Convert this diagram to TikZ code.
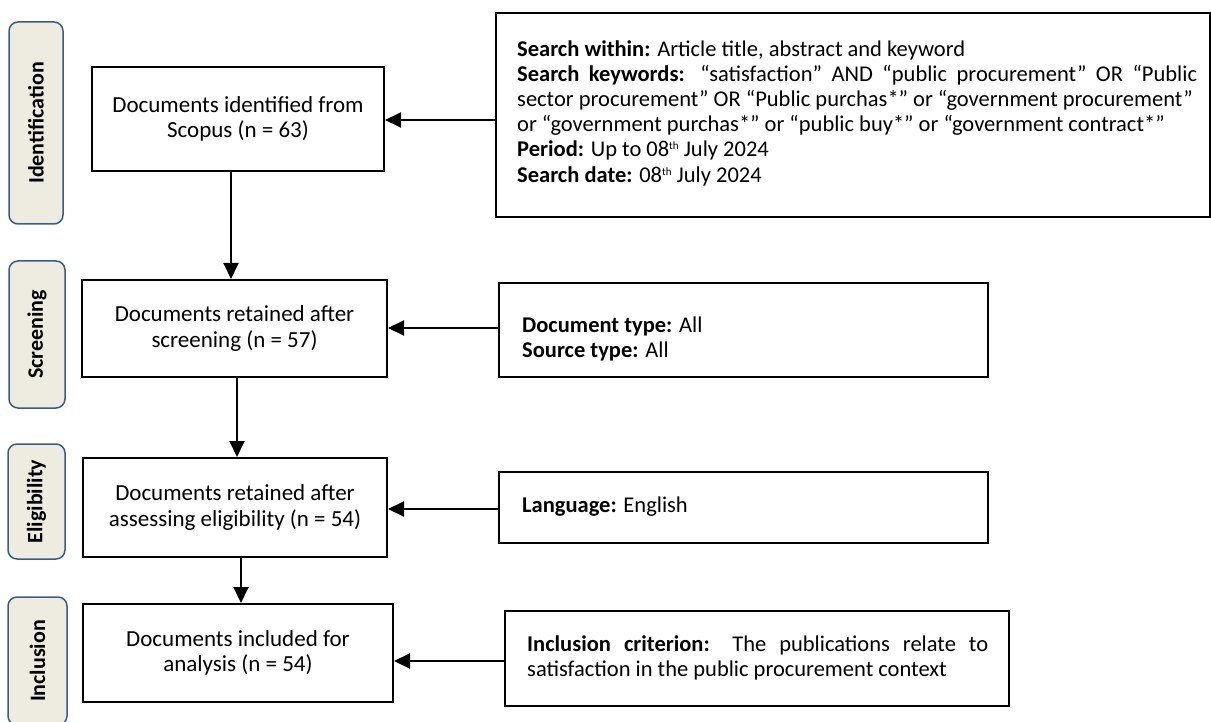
\documentclass[tikz,border=0pt]{standalone}
\usepackage{fontspec}
\setmainfont{Carlito}
\usetikzlibrary{arrows.meta}
\definecolor{phasefill}{HTML}{EEECE1}
\definecolor{phaseline}{HTML}{385D8A}
\newcommand{\thsup}{\raisebox{0.65ex}{\fontsize{11}{11}\selectfont th}}
\begin{document}
\begin{tikzpicture}[x=1pt,y=-1pt,
 mainbox/.style={draw, line width=2pt, align=center, font=\fontsize{23}{25.5}\selectfont, inner sep=0pt},
 sidebox/.style={draw, line width=2pt, inner sep=0pt},
 sidetext/.style={anchor=west, align=left, font=\fontsize{22.5}{25.2}\selectfont, inner sep=0pt},
 phase/.style={draw=phaseline, fill=phasefill, line width=1.5pt, rounded corners=9pt, inner sep=0pt},
 phasetext/.style={rotate=90, font=\bfseries\fontsize{22}{25}\selectfont, inner sep=0pt},
 arr/.style={-{Triangle[length=16pt,width=15pt]}, line width=2pt}
]
\useasboundingbox (0,0) rectangle (1211,722);
\clip (0,0) rectangle (1211,722);

% phase labels
\node[phase, minimum width=54pt, minimum height=202pt] (pid) at (36,123) {};
\node[phasetext] (tid) at (pid) {Identification};
\node[phase, minimum width=56pt, minimum height=147pt] (psc) at (37,334.5) {};
\node[phasetext] (tsc) at (psc) {Screening};
\node[phase, minimum width=57pt, minimum height=115pt] (pel) at (36.5,501.5) {};
\node[phasetext] (tel) at (pel) {Eligibility};
\node[phase, minimum width=59pt, minimum height=128pt] (pin) at (37.5,661) {};
\node[phasetext] (tin) at (pin) {Inclusion};

% main boxes
\node[mainbox, minimum width=292pt, minimum height=104pt] (b1) at (238,119) {Documents identified from\\Scopus (n = 63)};
\node[mainbox, minimum width=305pt, minimum height=97pt] (b2) at (234.5,328.5) {Documents retained after\\screening (n = 57)};
\node[mainbox, minimum width=304pt, minimum height=99pt] (b3) at (235,507.5) {Documents retained after\\assessing eligibility (n = 54)};
\node[mainbox, minimum width=310pt, minimum height=98pt] (b4) at (238,653) {Documents included for\\analysis (n = 54)};

% side boxes
\node[sidebox, minimum width=714pt, minimum height=204pt] (s1) at (853,115) {};
\node[sidetext, text width=680pt, align=justify] (t1) at (517,113) {\textbf{Search within:} Article title, abstract and keyword\\
\textbf{Search keywords:} “satisfaction” AND “public procurement” OR “Public\linebreak
sector procurement” OR “Public purchas*” or “government procurement”\\
or “government purchas*” or “public buy*” or “government contract*”\\
\textbf{Period:} Up to 08\thsup{} July 2024\\
\textbf{Search date:} 08\thsup{} July 2024};

\node[sidebox, minimum width=489pt, minimum height=94pt] (s2) at (743.5,330) {};
\node[sidetext] (t2) at (522,339) {\textbf{Document type:} All\\\textbf{Source type:} All};

\node[sidebox, minimum width=489pt, minimum height=71pt] (s3) at (743.5,507.5) {};
\node[sidetext] (t3) at (522,507) {\textbf{Language:} English};

\node[sidebox, minimum width=504pt, minimum height=95pt] (s4) at (757,658.5) {};
\node[sidetext, text width=461pt, align=justify] (t4) at (527,658) {\textbf{Inclusion criterion:} The publications relate to\linebreak
satisfaction in the public procurement context};

% connectors
\draw[arr] (s1.west |- 0,120) -- (b1.east |- 0,120);
\draw[arr] (s2.west |- 0,328) -- (b2.east |- 0,328);
\draw[arr] (s3.west |- 0,509) -- (b3.east |- 0,509);
\draw[arr] (s4.west |- 0,661) -- (b4.east |- 0,661);
\draw[arr] (b1.south -| 231,0) -- (b2.north -| 231,0);
\draw[arr] (b2.south -| 237,0) -- (b3.north -| 237,0);
\draw[arr] (b3.south -| 241,0) -- (b4.north -| 241,0);
\end{tikzpicture}
\end{document}
